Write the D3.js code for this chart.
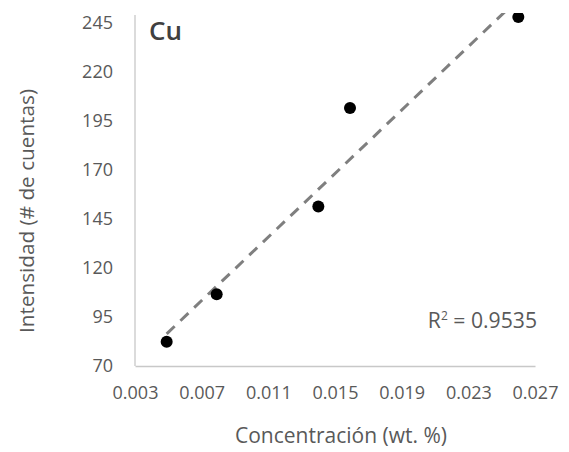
<!DOCTYPE html>
<html>
<head>
<meta charset="utf-8">
<script src="https://cdn.jsdelivr.net/npm/d3@7"></script>
<style>
  html, body { margin: 0; padding: 0; background: #fff; }
  svg { display: block; }
  text { font-family: "Open Sans", "Noto Sans", sans-serif; }
</style>
</head>
<body>
<svg id="chart" width="569" height="452"></svg>
<script>
// Calibration data for Cu: concentration (wt. %) vs. intensity (counts)
const concentration = [0.0049, 0.0079, 0.0140, 0.0159, 0.0260];
const intensity = [82.4, 106.6, 151.3, 201.5, 247.9];
const xTicks = [0.003, 0.007, 0.011, 0.015, 0.019, 0.023, 0.027];
const yTicks = [70, 95, 120, 145, 170, 195, 220, 245];
const elementLabel = "Cu";
const r2Label = "0.9535";

const svg = d3.select("#chart");
const plot = { left: 135, right: 535, top: 13, bottom: 366 };

const x = d3.scaleLinear().domain([0.003, 0.027]).range([plot.left, plot.right]);
const y = d3.scaleLinear().domain([70, 250]).range([plot.bottom, plot.top]);

// scale a text's font size so it spans the given width
function fitWidth(sel, width, base) {
  const len = sel.node().getComputedTextLength();
  sel.style("font-size", (base * width / len).toFixed(2) + "px");
}

svg.append("defs").append("clipPath").attr("id", "plotClip")
  .append("rect")
  .attr("x", plot.left).attr("y", plot.top)
  .attr("width", plot.right - plot.left + 10)
  .attr("height", plot.bottom - plot.top);

// Axes
const yAxis = svg.append("g")
  .attr("transform", `translate(${plot.left},0)`)
  .call(d3.axisLeft(y).tickValues(yTicks).tickSize(0).tickPadding(22).tickFormat(d3.format("d")));
const xAxis = svg.append("g")
  .attr("transform", `translate(0,${plot.bottom})`)
  .call(d3.axisBottom(x).tickValues(xTicks).tickSize(0).tickPadding(20).tickFormat(d3.format(".3f")));

[xAxis, yAxis].forEach(g => {
  g.select(".domain").attr("stroke", "#c8c8c8").attr("stroke-width", 1.3);
  g.selectAll("text").attr("fill", "#595959").style("font-size", "18px")
    .style("font-family", "'Open Sans', sans-serif");
});
yAxis.select(".domain").attr("d", `M0,${plot.top + 2}V${plot.bottom}`);

// Least-squares trend line over the data range
const mx = d3.mean(concentration), my = d3.mean(intensity);
let sxy = 0, sxx = 0;
concentration.forEach((c, i) => { sxy += (c - mx) * (intensity[i] - my); sxx += (c - mx) ** 2; });
const slope = sxy / sxx, intercept = my - slope * mx;
const xExt = d3.extent(concentration);
const trend = xExt.map(c => [c, intercept + slope * c]);

const inner = svg.append("g").attr("clip-path", "url(#plotClip)");
inner.append("path")
  .datum(trend)
  .attr("d", d3.line().x(d => x(d[0])).y(d => y(d[1])))
  .attr("fill", "none")
  .attr("stroke", "#7f7f7f")
  .attr("stroke-width", 3)
  .attr("stroke-dasharray", "11,8");

inner.selectAll("circle.pt")
  .data(concentration.map((c, i) => [c, intensity[i]]))
  .join("circle")
  .attr("class", "pt")
  .attr("cx", d => x(d[0]))
  .attr("cy", d => y(d[1]))
  .attr("r", 6)
  .attr("fill", "#000");

// Element label
svg.append("text")
  .attr("x", 149).attr("y", 40)
  .attr("fill", "#404040")
  .style("font-size", "26px").style("font-weight", "600")
  .text(elementLabel);

// R² annotation
const r2 = svg.append("text")
  .attr("x", 537).attr("y", 328)
  .attr("text-anchor", "end")
  .attr("fill", "#595959")
  .style("font-size", "19px");
r2.append("tspan").text("R");
r2.append("tspan").attr("dy", -8).style("font-size", "12px").text("2");
r2.append("tspan").attr("dy", 8).text(" = " + r2Label);
fitWidth(r2, 110, 19);

// Axis titles
const xTitle = svg.append("text")
  .attr("x", 341).attr("y", 443)
  .attr("text-anchor", "middle")
  .attr("fill", "#595959")
  .style("font-size", "18px")
  .text("Concentración (wt. %)");
fitWidth(xTitle, 212, 18);

const yTitle = svg.append("text")
  .attr("transform", "translate(34,211) rotate(-90)")
  .attr("text-anchor", "middle")
  .attr("fill", "#595959")
  .style("font-size", "18px")
  .text("Intensidad (# de cuentas)");
fitWidth(yTitle, 244, 18);
</script>
</body>
</html>
